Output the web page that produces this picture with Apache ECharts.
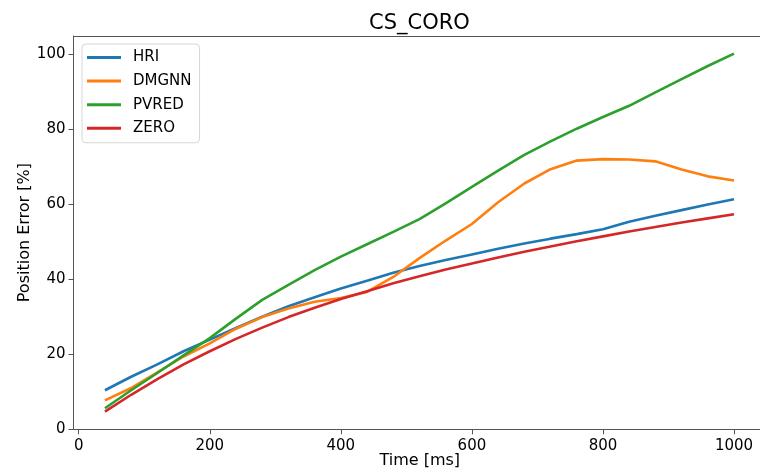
<!DOCTYPE html>
<html>
<head>
<meta charset="utf-8">
<script src="https://cdn.jsdelivr.net/npm/echarts@6/dist/echarts.min.js"></script>
<style>html,body{margin:0;padding:0;background:#fff;}#c{width:760px;height:474px;}</style>
</head>
<body>
<div id="c"></div>
<script>
const timesMs = [40,80,120,160,200,240,280,320,360,400,440,480,520,560,600,640,680,720,760,800,840,880,920,960,1000];
const hri   = [10.4,14.0,17.3,20.8,23.9,27.0,30.0,32.8,35.2,37.5,39.6,41.7,43.5,45.1,46.6,48.1,49.5,50.8,52.0,53.3,55.3,56.9,58.4,59.9,61.3];
const dmgnn = [7.7,11.0,15.2,19.4,22.9,26.8,29.9,32.2,34.0,35.0,36.6,40.6,45.6,50.3,54.7,60.5,65.5,69.3,71.6,72.0,71.9,71.4,69.2,67.4,66.3];
const pvred = [5.6,10.4,15.0,19.7,24.3,29.5,34.5,38.5,42.4,46.0,49.3,52.6,56.0,60.2,64.6,68.9,73.1,76.7,80.1,83.2,86.2,89.8,93.3,96.8,100.1];
const zero  = [4.7,9.2,13.4,17.3,20.8,24.1,27.1,29.9,32.4,34.7,36.8,38.9,40.8,42.6,44.2,45.8,47.3,48.7,50.1,51.4,52.7,53.9,55.1,56.2,57.3];
const seriesNames = ['HRI','DMGNN','PVRED','ZERO'];
const xTicks = [0,200,400,600,800,1000];
const yTicks = [0,20,40,60,80,100];

const colors = ['#1f77b4','#ff7f0e','#2ca02c','#d62728'];
const values = [hri, dmgnn, pvred, zero];
const font = 'DejaVu Sans';
const spine = '#555';

const chart = echarts.init(document.getElementById('c'), null, {renderer:'canvas'});
chart.setOption({
  animation:false,
  backgroundColor:'#fff',
  textStyle:{fontFamily:font},
  title:{text:'CS_CORO', left:369, top:13, padding:0,
    textStyle:{fontFamily:font, fontSize:21, fontWeight:'normal', color:'#000'}},
  legend:{
    orient:'vertical', left:82, top:44,
    padding:[6,8,7,5], itemGap:8.6,
    itemWidth:34, itemHeight:3, icon:'rect',
    backgroundColor:'#fff', borderColor:'#d6d6d6', borderWidth:1, borderRadius:4,
    textStyle:{fontFamily:font, fontSize:15, color:'#000', lineHeight:15, padding:[0,0,0,7]},
    data:seriesNames
  },
  grid:{left:73.5, top:36, right:-20, bottom:44.7, show:false, containLabel:false, outerBoundsMode:'none'},
  xAxis:[{
    type:'value', min:-8, max:1070.2, position:'bottom',
    name:'Time [ms]', nameLocation:'middle', nameGap:24, nameMoveOverlap:false,
    nameTextStyle:{fontFamily:font, fontSize:16, color:'#000', padding:[0,0,0,-14]},
    axisLine:{show:true, onZero:false, lineStyle:{color:spine, width:1}},
    axisTick:{show:true, inside:false, length:5, lineStyle:{color:spine}, customValues:xTicks},
    axisLabel:{fontFamily:font, fontSize:15, color:'#000', margin:9, customValues:xTicks,
      formatter:(v)=>String(v)},
    splitLine:{show:false}
  },{
    type:'value', min:-8, max:1070.2, position:'top',
    axisLine:{show:true, onZero:false, lineStyle:{color:spine, width:1}},
    axisTick:{show:false}, axisLabel:{show:false}, splitLine:{show:false}
  }],
  yAxis:{
    type:'value', min:0, max:104.8,
    name:'Position Error [%]', nameLocation:'middle', nameGap:41, nameRotate:90, nameMoveOverlap:false,
    nameTextStyle:{fontFamily:font, fontSize:16, color:'#000'},
    axisLine:{show:true, onZero:false, lineStyle:{color:spine, width:1}},
    axisTick:{show:true, inside:false, length:5, lineStyle:{color:spine}, customValues:yTicks},
    axisLabel:{fontFamily:font, fontSize:15, color:'#000', margin:8, customValues:yTicks,
      formatter:(v)=>String(v)},
    splitLine:{show:false}
  },
  series: seriesNames.map((n,i)=>({
    name:n, type:'line', showSymbol:false, symbol:'none', xAxisIndex:0,
    data: timesMs.map((t,j)=>[t, values[i][j]]),
    lineStyle:{color:colors[i], width:2.6}, itemStyle:{color:colors[i]}
  }))
});
</script>
</body>
</html>
